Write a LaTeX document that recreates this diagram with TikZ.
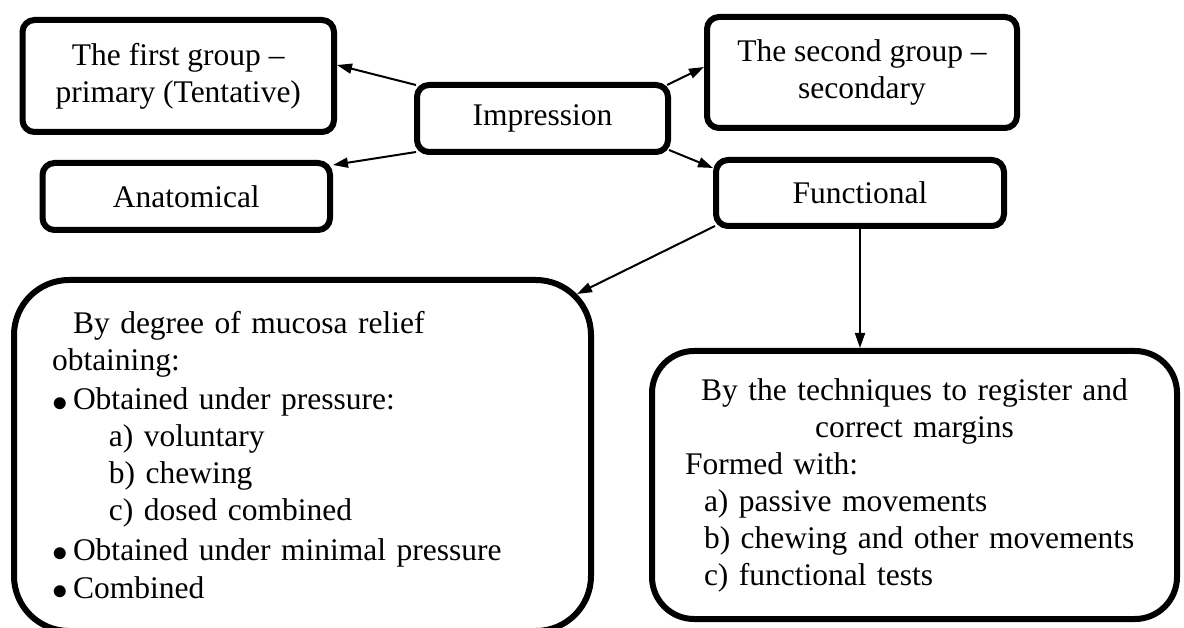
\documentclass[tikz,border=0pt]{standalone}
\usepackage{fontspec}
\setmainfont{Liberation Serif}
\usetikzlibrary{arrows.meta}
\newcommand{\bigdot}{\makebox[21pt][l]{\raisebox{-1.5pt}{\scalebox{1.25}{$\bullet$}}}}

\begin{document}
\begin{tikzpicture}[x=1pt,y=-1pt,
 every node/.style={font=\fontsize{31.5}{37}\selectfont},
 box/.style={draw,line width=6pt,rounded corners=12pt,align=center,inner sep=0pt},
 bigbox/.style={draw,line width=6pt,inner sep=0pt},
 arr/.style={line width=2pt,-{Triangle[length=15pt,width=10pt]}}]
\useasboundingbox (0,0) rectangle (1184,628);
\node[box,minimum width=311.5pt,minimum height=112pt] (first) at (178.25,76) {The first group --\\primary (Tentative)};
\node[box,minimum width=287.5pt,minimum height=67pt] (anat) at (186.25,196.5) {Anatomical};
\node[box,minimum width=251pt,minimum height=67pt] (imp) at (542.5,118.5) {Impression};
\node[box,minimum width=310pt,minimum height=111pt] (second) at (862,72.5) {The second group --\\secondary};
\node[box,minimum width=288pt,minimum height=66pt] (func) at (860,193) {Functional};
\node[bigbox,rounded corners=55pt,minimum width=577pt,minimum height=351pt,text width=501pt] (degree) at (302.5,455.5) {\hspace*{21pt}By degree of mucosa relief\\
obtaining:\\[2.5pt]
\bigdot Obtained under pressure:\\
\hspace*{57pt}a) voluntary\\
\hspace*{57pt}b) chewing\\
\hspace*{57pt}c) dosed combined\\[2.5pt]
\bigdot Obtained under minimal pressure\\[1pt]
\bigdot Combined};
\node[bigbox,rounded corners=42pt,minimum width=525pt,minimum height=268pt,text width=459pt] (tech) at (914.5,485) {{\centering By the techniques to register and\\ correct margins\par}
Formed with:\\
\hspace*{19pt}a) passive movements\\
\hspace*{19pt}b) chewing and other movements\\
\hspace*{19pt}c) functional tests};
\draw[arr] ([shift={(2,3)}]imp.north west) -- ([yshift=11pt]first.east);
\draw[arr] ([shift={(2,-3)}]imp.south west) -- ([yshift=-5pt]anat.north east);
\draw[arr] ([shift={(-4,3)}]imp.north east) -- ([yshift=5.5pt]second.west);
\draw[arr] ([shift={(-2,-5)}]imp.south east) -- ([yshift=-11pt]func.north west);
\draw[arr] ([shift={(2,-3)}]func.south west) -- ([shift={(-17,17)}]degree.north east);
\draw[arr] (func.south) -- (func.south |- tech.north);
\end{tikzpicture}
\end{document}
